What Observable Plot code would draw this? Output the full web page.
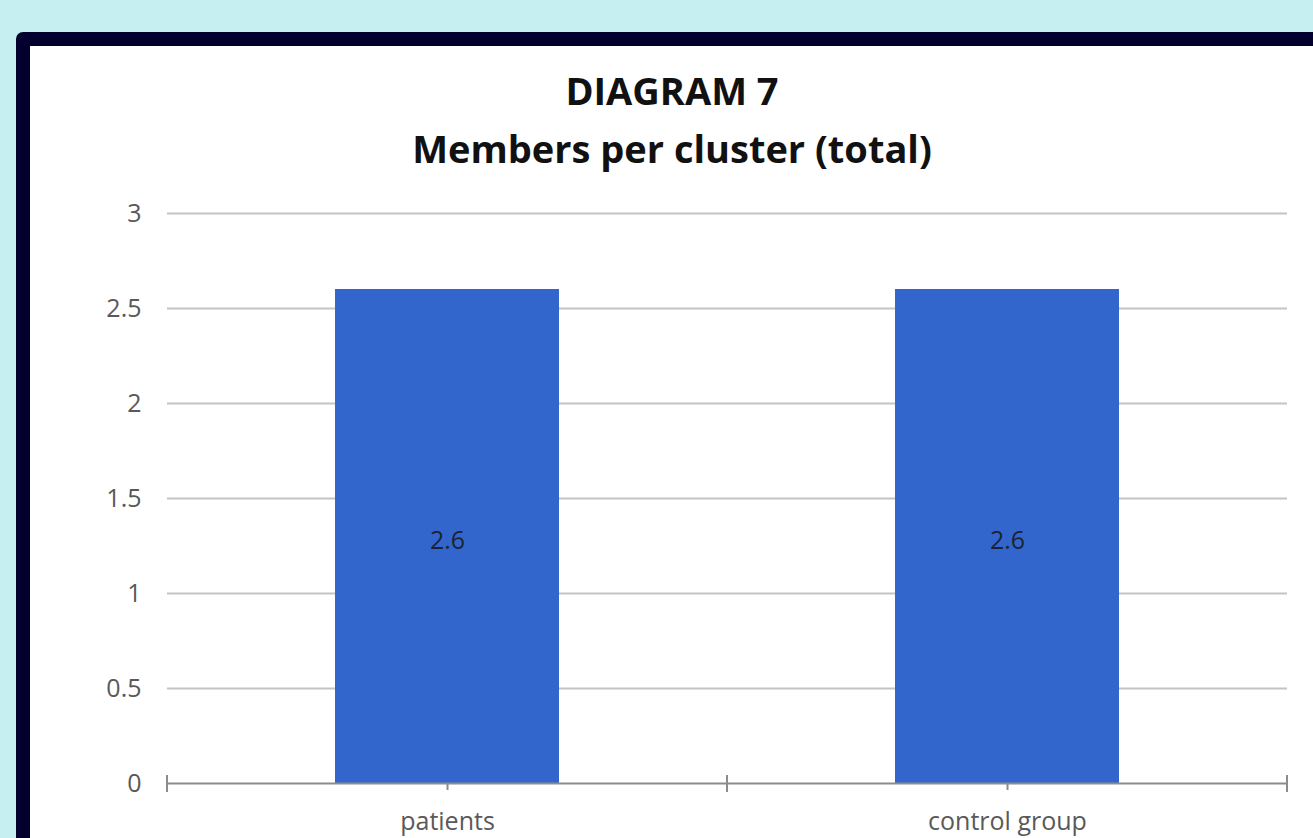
<!DOCTYPE html>
<html>
<head>
<meta charset="utf-8">
<script src="https://cdn.jsdelivr.net/npm/d3@7"></script>
<script src="https://cdn.jsdelivr.net/npm/@observablehq/plot@0.6"></script>
<style>
  html, body { margin: 0; padding: 0; width: 1313px; height: 838px; overflow: hidden; background: #c5eff1; }
  #frame { position: absolute; left: 16px; top: 32px; width: 1340px; height: 900px; background: #ffffff;
           border: 14px solid #03002e; border-radius: 7px; box-sizing: border-box; }
  #title { position: absolute; left: 0; top: 61px; width: 1344px; text-align: center;
           font-family: "Open Sans", sans-serif; font-weight: bold; font-size: 38px; line-height: 58px; color: #111; }
  #chart { position: absolute; left: 0; top: 180px; }
</style>
</head>
<body>
<div id="frame"></div>
<div id="title">DIAGRAM 7<br>Members per cluster (total)</div>
<div id="chart"></div>
<script>
const categories = ["patients", "control group"];
const values = [2.6, 2.6];
const yTicks = [0, 0.5, 1, 1.5, 2, 2.5, 3];

const data = categories.map((c, i) => ({category: c, value: values[i]}));

const plot = Plot.plot({
  width: 1313,
  height: 658,
  marginTop: 33,
  marginBottom: 55,
  marginLeft: 167,
  marginRight: 26,
  style: {fontFamily: "Open Sans, sans-serif", fontSize: "25px", color: "#595959", background: "transparent"},
  x: {domain: categories, paddingInner: 0.6, paddingOuter: 0.3, label: null},
  y: {domain: [0, 3], ticks: yTicks, label: null},
  marks: [
    Plot.gridY(yTicks.filter(t => t > 0), {stroke: "#c4c4c4", strokeOpacity: 1, strokeWidth: 2}),
    Plot.axisY(yTicks, {tickSize: 0, tickPadding: 26, fontSize: 25, fill: "#595959", label: null, tickFormat: d => String(d)}),
    Plot.barY(data, {x: "category", y: "value", fill: "#3366cc"}),
    Plot.ruleY([0], {stroke: "#8c8c8c", strokeWidth: 2}),
    Plot.axisX({tickSize: 7, stroke: "#8c8c8c", strokeWidth: 2, tickPadding: 22, fontSize: 25, fill: "#595959", label: null}),
    Plot.text(data, {x: "category", y: d => d.value / 2, text: d => String(d.value), fill: "#1c2333", fontSize: 25, dy: 4})
  ]
});

document.getElementById("chart").appendChild(plot);

// category boundary tick marks (Excel-style), positioned from Plot's x scale
const xs = plot.scale("x");
const ys = plot.scale("y");
const y0 = ys.apply(0);
const bounds = categories.map(c => xs.apply(c) - (xs.step - xs.bandwidth) / 2);
bounds.push(xs.apply(categories[categories.length - 1]) + xs.bandwidth + (xs.step - xs.bandwidth) / 2);
d3.select(plot).append("g")
  .selectAll("line").data(bounds).join("line")
  .attr("x1", d => d).attr("x2", d => d)
  .attr("y1", y0 - 8).attr("y2", y0 + 9)
  .attr("stroke", "#8c8c8c").attr("stroke-width", 2);
</script>
</body>
</html>
